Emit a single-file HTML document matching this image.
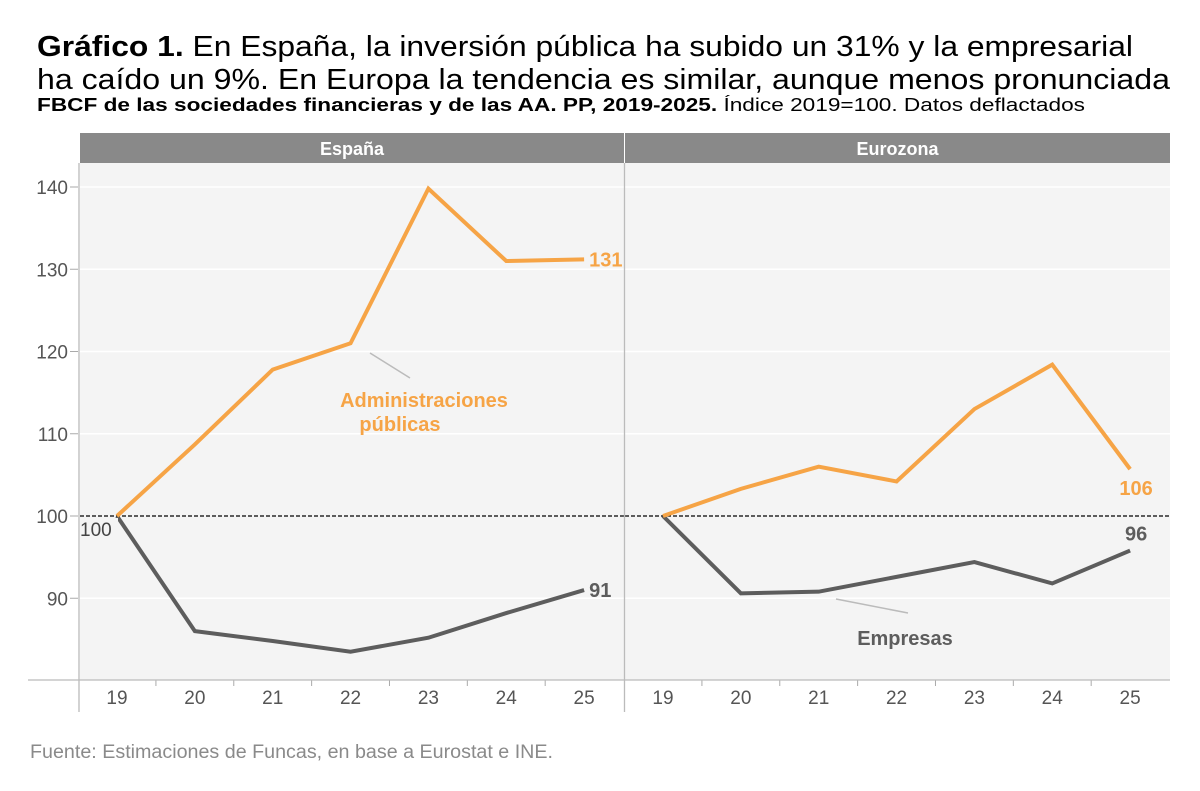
<!DOCTYPE html>
<html><head><meta charset="utf-8"><style>
body{margin:0;background:#fff;font-family:"Liberation Sans",Arial,sans-serif;}
#wrap{position:relative;width:1200px;height:791px;overflow:hidden;}
</style></head><body>
<div id="wrap">
<svg id="svg" width="1200" height="791" style="position:absolute;left:0;top:0;font-family:'Liberation Sans',Arial,sans-serif">
<text x="37" y="56" font-size="29" textLength="1096" lengthAdjust="spacingAndGlyphs"><tspan font-weight="bold">Gráfico 1.</tspan> En España, la inversión pública ha subido un 31% y la empresarial</text>
<text x="37" y="89" font-size="29" textLength="1133" lengthAdjust="spacingAndGlyphs">ha caído un 9%. En Europa la tendencia es similar, aunque menos pronunciada</text>
<text x="37" y="111" font-size="18" textLength="1048" lengthAdjust="spacingAndGlyphs"><tspan font-weight="bold">FBCF de las sociedades financieras y de las AA. PP, 2019-2025.</tspan> Índice 2019=100. Datos deflactados</text>
<text x="30" y="758" font-size="19" fill="#8a8a8a" textLength="523" lengthAdjust="spacingAndGlyphs">Fuente: Estimaciones de Funcas, en base a Eurostat e INE.</text>
</svg>
</div>
<script>
const years=["19","20","21","22","23","24","25"];
const yTicks=[90,100,110,120,130,140];
const panelNames=["España","Eurozona"];
const esAAPP=[100,108.7,117.8,121,139.8,131,131.2];
const esEmp=[100,86,84.8,83.5,85.2,88.2,91];
const euAAPP=[100,103.3,106,104.2,113,118.4,105.7];
const euEmp=[100,90.6,90.8,92.6,94.4,91.8,95.8];
const NS="http://www.w3.org/2000/svg";
const svg=document.getElementById('svg');
function el(tag,attrs,txt){const e=document.createElementNS(NS,tag);for(const k in attrs)e.setAttribute(k,attrs[k]);if(txt!==undefined)e.textContent=txt;svg.appendChild(e);return e;}
const top0=163,bot=680;
function y(v){return 516-(v-100)*8.225;}
const panels=[{x0:80,x1:624,first:117},{x0:625,x1:1170,first:663}];
const step=77.85;
function x(p,i){return panels[p].first+i*step;}
panels.forEach((p,pi)=>{
 let r=el('rect',{x:p.x0,y:top0,width:p.x1-p.x0,height:bot-top0,fill:'#f4f4f4'});
 
 let h=el('rect',{x:p.x0,y:133,width:p.x1-p.x0,height:30,fill:'#898989'});
 
 let ht=el('text',{x:(p.x0+p.x1)/2,y:155,'text-anchor':'middle','font-size':18,'font-weight':'bold',fill:'#fff'},panelNames[pi]);
 
 yTicks.forEach(v=>{if(v!==100){let g=el('line',{x1:p.x0,x2:p.x1,y1:y(v),y2:y(v),stroke:'#fff','stroke-width':1.5});}});
 let d=el('line',{x1:p.x0,x2:p.x1,y1:y(100),y2:y(100),stroke:'#000','stroke-dasharray':'4,2','stroke-width':1.2});
 
 years.forEach((yr,i)=>{
  let t=el('text',{x:x(pi,i),y:704,'text-anchor':'middle','font-size':19,fill:'#555'},yr);
  
  if(i>0){let tk=el('line',{x1:x(pi,i)-step/2,x2:x(pi,i)-step/2,y1:bot,y2:bot+6,stroke:'#aaa'});}
 });
});
el('line',{x1:28,x2:1170,y1:bot,y2:bot,stroke:'#bbb','stroke-width':1.3});
el('line',{x1:79,x2:79,y1:top0,y2:712,stroke:'#bbb','stroke-width':1.3});
el('line',{x1:624.5,x2:624.5,y1:top0,y2:712,stroke:'#bbb','stroke-width':1.3});
yTicks.forEach(v=>{
 let t=el('text',{x:68,y:y(v)+7,'text-anchor':'end','font-size':19,fill:'#555'},String(v));
 
 el('line',{x1:70,x2:78,y1:y(v),y2:y(v),stroke:'#aaa'});
});
function line(pi,arr,color,name){
 const pts=arr.map((v,i)=>x(pi,i)+','+y(v)).join(' ');
 let l=el('polyline',{points:pts,fill:'none',stroke:color,'stroke-width':4,'stroke-linejoin':'miter'});
 
}
const OR='#f6a446',GR='#5d5d5d';
line(0,esEmp,GR,'line-espana-empresas');
line(0,esAAPP,OR,'line-espana-aapp');
line(1,euEmp,GR,'line-eurozona-empresas');
line(1,euAAPP,OR,'line-eurozona-aapp');
function lab(tx,xx,yy,c,anchor,name){let t=el('text',{x:xx,y:yy,'text-anchor':anchor||'start','font-size':20,'font-weight':'bold',fill:c},tx);}
el('rect',{x:80,y:518,width:38,height:22,fill:'#f4f4f4'});
let l100=el('text',{x:80,y:536,'font-size':19,fill:'#444'},'100');
lab(Math.round(esAAPP[6]),x(0,6)+5,y(esAAPP[6])+7,OR,'start','end-label-espana-aapp');
lab(Math.round(esEmp[6]),x(0,6)+5,y(esEmp[6])+7,GR,'start','end-label-espana-empresas');
lab(Math.round(euAAPP[6]),x(1,6)+6,y(euAAPP[6])+26,OR,'middle','end-label-eurozona-aapp');
lab(Math.round(euEmp[6]),x(1,6)+6,y(euEmp[6])-10,GR,'middle','end-label-eurozona-empresas');
el('line',{x1:370,y1:353,x2:410,y2:378,stroke:'#bbb','stroke-width':1.5});
lab('Administraciones',424,407,OR,'middle','series-label-aapp');
lab('públicas',400,431,OR,'middle','series-label-aapp-2');
el('line',{x1:836,y1:599,x2:908,y2:613,stroke:'#bbb','stroke-width':1.5});
lab('Empresas',905,645,GR,'middle','series-label-empresas');
</script>
</body></html>
